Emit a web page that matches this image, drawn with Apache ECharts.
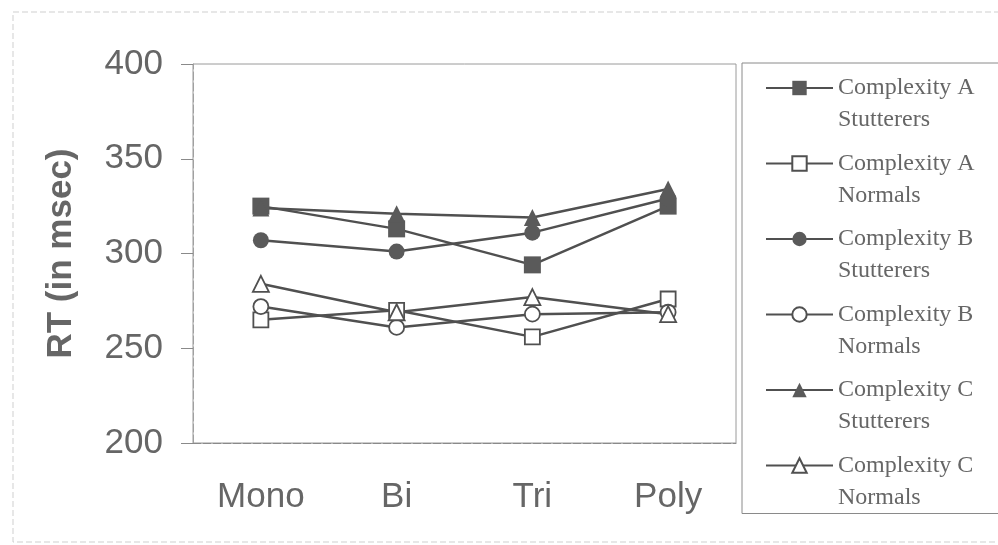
<!DOCTYPE html>
<html>
<head>
<meta charset="utf-8">
<script src="https://cdn.jsdelivr.net/npm/echarts@6/dist/echarts.min.js"></script>
<style>
  html, body { margin: 0; padding: 0; background: #fff; }
  #chart { width: 998px; height: 545px; }
</style>
</head>
<body>
<div id="chart"></div>
<script>
// Word types on the x axis
const categories = ['Mono', 'Bi', 'Tri', 'Poly'];

// Reaction times (msec) per condition
const complexityAStutterers = [325, 313, 294, 325];
const complexityANormals    = [265, 270, 256, 276];
const complexityBStutterers = [307, 301, 311, 329];
const complexityBNormals    = [272, 261, 268, 269];
const complexityCStutterers = [324, 321, 319, 334];
const complexityCNormals    = [284, 269, 277, 268];

// Y axis range
const yMin = 200;
const yMax = 400;
const yStep = 50;

const seriesDefs = [
  { name: 'Complexity A\nStutterers', data: complexityAStutterers, symbol: 'rect',     filled: true,  size: 17 },
  { name: 'Complexity A\nNormals',    data: complexityANormals,    symbol: 'rect',     filled: false, size: 15 },
  { name: 'Complexity B\nStutterers', data: complexityBStutterers, symbol: 'circle',   filled: true,  size: 16 },
  { name: 'Complexity B\nNormals',    data: complexityBNormals,    symbol: 'circle',   filled: false, size: 15 },
  { name: 'Complexity C\nStutterers', data: complexityCStutterers, symbol: 'triangle', filled: true,  size: 17 },
  { name: 'Complexity C\nNormals',    data: complexityCNormals,    symbol: 'triangle', filled: false, size: 16 }
];

const lineColor = '#505050';
const markFill = '#5a5a5a';
const textColor = '#666666';

const chart = echarts.init(document.getElementById('chart'), null, { renderer: 'canvas' });

chart.setOption({
  backgroundColor: '#ffffff',
  animation: false,
  graphic: [{
    type: 'rect',
    shape: { x: 13, y: 12, width: 1000, height: 530 },
    style: { fill: 'none', stroke: '#cfcfcf', lineWidth: 1, lineDash: [6, 3] },
    silent: true,
    z: -10
  }],
  grid: {
    left: 193, top: 64, right: 262, bottom: 102,
    show: true,
    borderColor: '#9a9a9a',
    borderWidth: 1
  },
  xAxis: {
    type: 'category',
    data: categories,
    boundaryGap: true,
    axisLine: { show: true, lineStyle: { color: '#8a8a8a', width: 1, type: [8, 2] } },
    axisTick: { show: false },
    axisLabel: {
      color: textColor,
      fontFamily: 'Liberation Sans, Arial, sans-serif',
      fontSize: 35,
      margin: 37
    },
    splitLine: { show: false }
  },
  yAxis: {
    type: 'value',
    min: yMin,
    max: yMax,
    interval: yStep,
    name: 'RT (in msec)',
    nameLocation: 'middle',
    nameGap: 114,
    nameTextStyle: {
      color: textColor,
      fontFamily: 'Liberation Sans, Arial, sans-serif',
      fontSize: 35,
      fontWeight: 'bold'
    },
    axisLine: { show: true, lineStyle: { color: '#a0a0a0', width: 1, type: [8, 3] } },
    axisTick: { show: true, inside: false, length: 12, lineStyle: { color: '#8a8a8a' } },
    axisLabel: {
      color: textColor,
      fontFamily: 'Liberation Sans, Arial, sans-serif',
      fontSize: 35,
      margin: 30
    },
    splitLine: { show: false }
  },
  legend: {
    orient: 'vertical',
    left: 742,
    top: 63,
    padding: [-23, 40, 0, 23],
    itemGap: -20.5,
    itemWidth: 67,
    itemHeight: 18,
    borderColor: '#8a8a8a',
    borderWidth: 1,
    selectedMode: false,
    // a blank leading line keeps the symbol level with the first text line
    formatter: name => ' \n' + name,
    textStyle: {
      color: textColor,
      fontFamily: 'Liberation Serif, Times New Roman, serif',
      fontSize: 24,
      lineHeight: 32
    },
    data: seriesDefs.map(d => d.name)
  },
  series: seriesDefs.map(d => ({
    name: d.name,
    type: 'line',
    data: d.data,
    symbol: d.symbol,
    symbolSize: d.size,
    showSymbol: true,
    lineStyle: { color: lineColor, width: 2.5 },
    itemStyle: {
      color: d.filled ? markFill : '#ffffff',
      borderColor: d.filled ? markFill : lineColor,
      borderWidth: d.filled ? 0 : 1.8
    },
    emphasis: { disabled: true }
  }))
});
</script>
</body>
</html>
